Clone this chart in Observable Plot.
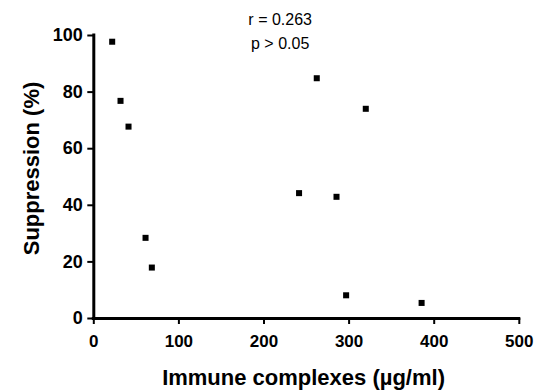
<!DOCTYPE html>
<html>
<head>
<meta charset="utf-8">
<script src="https://cdn.jsdelivr.net/npm/d3@7"></script>
<script src="https://cdn.jsdelivr.net/npm/@observablehq/plot@0.6"></script>
<style>
  html, body { margin: 0; padding: 0; background: #fff; }
</style>
</head>
<body>
<div id="chart"></div>
<script>
// Data
const immuneComplexes = [21.6, 31.4, 40.8, 60.8, 68.2, 241.2, 262, 285.2, 296.5, 319.6, 385.2];
const suppression     = [97.8, 76.9, 67.8, 28.5, 18.0, 44.3, 84.9, 43.0, 8.2, 74.1, 5.5];
const xTicks = [0, 100, 200, 300, 400, 500];
const yTicks = [0, 20, 40, 60, 80, 100];
const annotationLines = ["r = 0.263", "p > 0.05"];
const annotationX = 219;
const xLabel = "Immune complexes (µg/ml)";
const yLabel = "Suppression (%)";

const points = immuneComplexes.map((x, i) => ({x, y: suppression[i]}));
const font = "'Liberation Sans', Arial, Helvetica, sans-serif";

const chart = Plot.plot({
  width: 543,
  height: 390,
  marginLeft: 93.3,
  marginRight: 24.2,
  marginTop: 35,
  marginBottom: 72,
  style: {background: "#fff", color: "#000", fontFamily: font, overflow: "visible"},
  x: {domain: [0, 500]},
  y: {domain: [0, 100]},
  marks: [
    Plot.axisX({ticks: xTicks, tickSize: 6, tickPadding: 10, fontSize: 17, fontWeight: "bold",
                strokeWidth: 2, label: null, tickFormat: d => String(d)}),
    Plot.axisY({ticks: yTicks, tickSize: 6, tickPadding: 5, fontSize: 18, fontWeight: "bold",
                strokeWidth: 2, label: null, tickFormat: d => String(d)}),
    Plot.ruleY([0], {x1: 0, x2: 500, strokeWidth: 3, strokeLinecap: "square"}),
    Plot.ruleX([0], {y1: 0, y2: 100, strokeWidth: 3, strokeLinecap: "square"}),
    Plot.dot(points, {x: "x", y: "y", symbol: "square", r: 3.4, fill: "#000", stroke: "none"}),
    Plot.text([annotationLines[0]], {x: () => annotationX, y: () => 100, dy: -16, fontSize: 16,
               fontWeight: "normal", fill: "#000", clip: false}),
    Plot.text([annotationLines[1]], {x: () => annotationX, y: () => 100, dy: 8.3, fontSize: 16,
               fontWeight: "normal", fill: "#000", clip: false}),
    Plot.text([xLabel], {frameAnchor: "bottom", textAnchor: "middle", lineAnchor: "middle",
               dx: -3, dy: 59, fontSize: 22, fontWeight: "bold", fill: "#000"}),
    Plot.text([yLabel], {frameAnchor: "left", textAnchor: "middle", lineAnchor: "middle", rotate: -90,
               dx: -62.3, dy: -8.5, fontSize: 22, fontWeight: "bold", fill: "#000"})
  ]
});
document.getElementById("chart").appendChild(chart);
</script>
</body>
</html>
